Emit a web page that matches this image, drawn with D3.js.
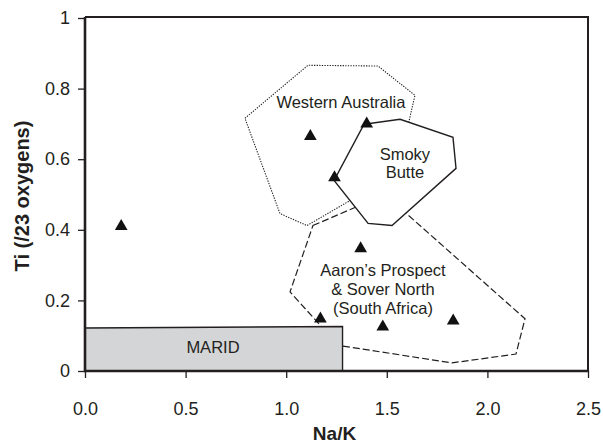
<!DOCTYPE html>
<html>
<head>
<meta charset="utf-8">
<script src="https://cdn.jsdelivr.net/npm/d3@7"></script>
<style>
    body { margin: 0; background: #fff; }
    svg { font-family: "Liberation Sans", Arial, sans-serif; }
</style>
</head>
<body>
<div id="chart"></div>
<script>
// tick labels
const xTicks = [0, 0.5, 1.0, 1.5, 2.0, 2.5];
const yTicks = [0, 0.2, 0.4, 0.6, 0.8, 1];

// sample points (Na/K, Ti)
const samples = [
    [0.18, 0.41], [1.12, 0.665], [1.40, 0.70], [1.24, 0.548],
    [1.37, 0.347], [1.17, 0.148], [1.48, 0.125], [1.83, 0.142]
];

// fields
const westernAustralia = [
    [0.795, 0.716], [1.108, 0.866], [1.456, 0.864], [1.64, 0.781],
    [1.551, 0.56], [1.103, 0.412], [0.969, 0.446]
];
const smokyButte = [
    [1.387, 0.699], [1.566, 0.713], [1.829, 0.662], [1.844, 0.574],
    [1.526, 0.412], [1.407, 0.418], [1.238, 0.54]
];
const aarons = [
    [1.133, 0.412], [1.491, 0.50], [2.187, 0.148], [2.142, 0.048],
    [1.824, 0.023], [1.277, 0.071], [1.218, 0.099], [1.019, 0.224]
];
const marid = [[0, 0], [0, 0.122], [1.28, 0.126], [1.28, 0]];

const width = 603;
const height = 444;
const plotLeft = 85, plotRight = 588, plotTop = 17, plotBottom = 371;
const ink = "#231f20";

const svg = d3.select("#chart")
    .append("svg")
    .attr("width", width)
    .attr("height", height);

const xScale = d3.scaleLinear().domain([0, 2.5]).range([plotLeft, plotRight]);
const yScale = d3.scaleLinear().domain([0, 1]).range([plotBottom, plotTop + 1]);

const line = d3.line()
    .x(d => xScale(d[0]))
    .y(d => yScale(d[1]))
    .curve(d3.curveLinearClosed);

// Western Australia (dotted)
svg.append("path")
    .attr("d", line(westernAustralia))
    .attr("fill", "none")
    .attr("stroke", ink)
    .attr("stroke-width", 1.1)
    .attr("stroke-dasharray", "1.3,1.3");

// Aaron's Prospect (dashed)
svg.append("path")
    .attr("d", line(aarons))
    .attr("fill", "none")
    .attr("stroke", ink)
    .attr("stroke-width", 1.2)
    .attr("stroke-dasharray", "7,3");

// Smoky Butte (solid, hides the others)
svg.append("path")
    .attr("d", line(smokyButte))
    .attr("fill", "#fff")
    .attr("stroke", ink)
    .attr("stroke-width", 1.4);

// MARID box
svg.append("path")
    .attr("d", line(marid))
    .attr("fill", "#d4d5d6")
    .attr("stroke", ink)
    .attr("stroke-width", 1.4);

// axes
const xAxis = svg.append("g")
    .attr("transform", `translate(0, ${plotBottom})`)
    .call(d3.axisBottom(xScale).tickValues(xTicks).tickSize(7).tickSizeOuter(0)
        .tickPadding(24).tickFormat(d => d.toFixed(1)));
const yAxis = svg.append("g")
    .attr("transform", `translate(${plotLeft}, 0)`)
    .call(d3.axisLeft(yScale).tickValues(yTicks).tickSize(7).tickSizeOuter(0)
        .tickPadding(8).tickFormat(d => String(d)));

[xAxis, yAxis].forEach(function (g) {
    g.select(".domain").remove();
    g.selectAll("line").attr("stroke", ink).attr("stroke-width", 1.3);
    g.selectAll("text")
        .attr("fill", ink)
        .attr("font-size", "18px")
        .attr("font-family", "'Liberation Sans', Arial, sans-serif");
});
xAxis.selectAll("line").attr("y1", -1);
yAxis.selectAll("line").attr("x1", 1);

// frame
svg.append("path")
    .attr("d", `M${plotLeft},${plotTop}H${plotRight}V${plotBottom}`)
    .attr("fill", "none")
    .attr("stroke", ink)
    .attr("stroke-width", 2);
svg.append("path")
    .attr("d", `M${plotLeft},${plotTop}V${plotBottom}H${plotRight}`)
    .attr("fill", "none")
    .attr("stroke", ink)
    .attr("stroke-width", 2.6);

// sample triangles
const tri = d3.symbol().type(d3.symbolTriangle).size(70);
svg.selectAll(".pt")
    .data(samples)
    .enter()
    .append("path")
    .attr("class", "pt")
    .attr("d", tri)
    .attr("transform", d => `translate(${xScale(d[0])}, ${yScale(d[1])})`)
    .attr("fill", "#111");

// field labels, (x, y) = centre of the text block
function label(x, y, lines, size, lh) {
    const t = svg.append("text")
        .attr("text-anchor", "middle")
        .attr("font-size", size)
        .attr("fill", ink);
    const y0 = yScale(y) - (lines.length - 1) * lh / 2;
    lines.forEach(function (s, i) {
        t.append("tspan")
            .attr("x", xScale(x))
            .attr("y", y0 + i * lh)
            .attr("dy", "0.35em")
            .text(s);
    });
}
label(1.272, 0.762, ["Western Australia"], "16.5px", 19);
label(1.59, 0.589, ["Smoky", "Butte"], "16.5px", 18);
label(1.481, 0.232, ["Aaron’s Prospect", "& Sover North", "(South Africa)"], "16.5px", 19);
label(0.636, 0.068, ["MARID"], "16.5px", 19);

// axis titles
svg.append("text")
    .attr("x", (plotLeft + plotRight) / 2 - 2)
    .attr("y", 440)
    .attr("text-anchor", "middle")
    .attr("font-size", "19px")
    .attr("font-weight", "bold")
    .attr("fill", ink)
    .text("Na/K");
svg.append("text")
    .attr("transform", "translate(29, 196) rotate(-90)")
    .attr("text-anchor", "middle")
    .attr("font-size", "20px")
    .attr("font-weight", "bold")
    .attr("fill", ink)
    .text("Ti (/23 oxygens)");
</script>
</body>
</html>
